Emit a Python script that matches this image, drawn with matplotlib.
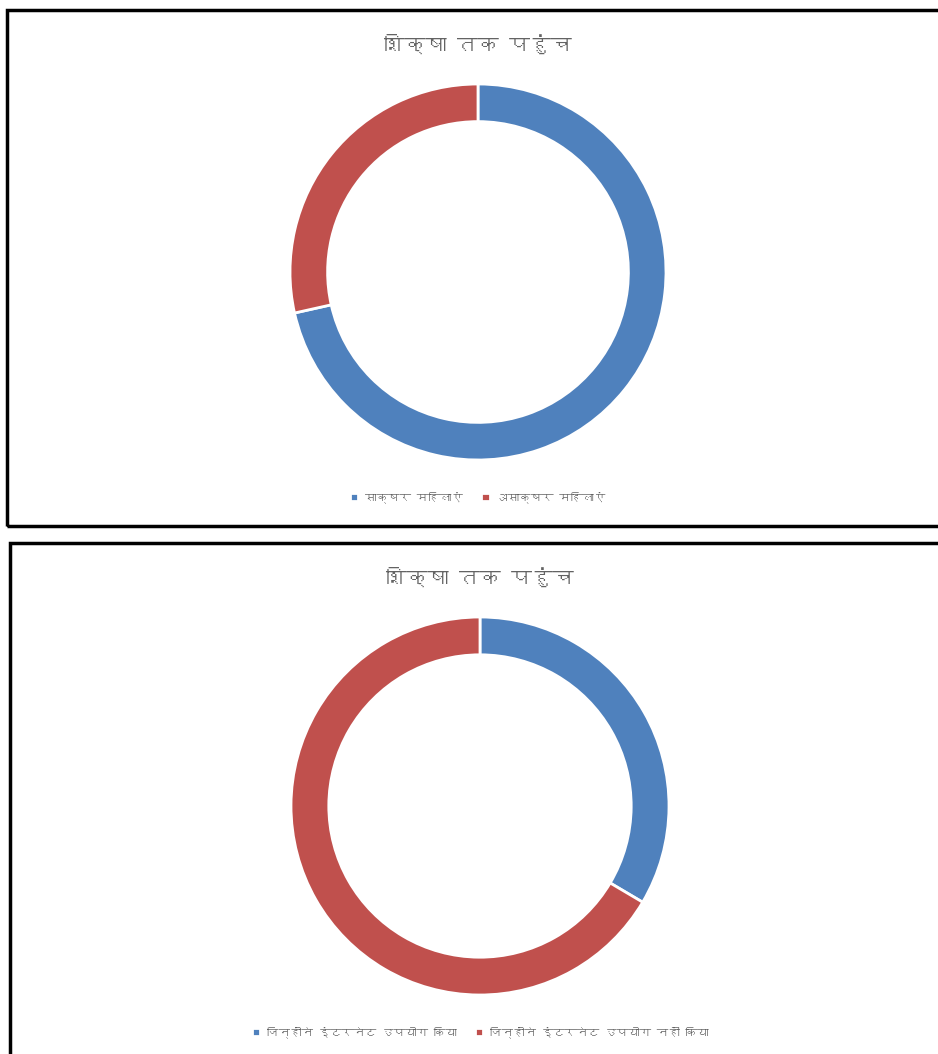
import matplotlib
matplotlib.use('Agg')
import matplotlib.pyplot as plt
from matplotlib import font_manager as fm
from matplotlib.ft2font import FT2Font
from matplotlib.patches import Rectangle

# chart data
title_text = 'शिक्षा तक पहुंच'
literacy_labels = ['साक्षर महिलाएं', 'असाक्षर महिलाएं']
literacy_values = [71.5, 28.5]
internet_labels = ['जिन्होंने इंटरनेट उपयोग किया', 'जिन्होंने इंटरनेट उपयोग नहीं किया']
internet_values = [33.5, 66.5]

colors = ['#4F81BD', '#C0504D']
W, H = 938, 1054


def find_devanagari_font():
    # look for any installed font that has Devanagari glyphs
    for f in fm.fontManager.ttflist:
        try:
            cmap = FT2Font(f.fname).get_charmap()
        except Exception:
            continue
        if 0x0915 in cmap and 0x093F in cmap:
            return f.name
    return None


deva = find_devanagari_font()
families = ([deva] if deva else []) + ['DejaVu Sans']
plt.rcParams['font.family'] = families


def px_axes(fig, x0, y0, x1, y1):
    # pixel box (from top-left) -> figure axes
    return fig.add_axes([x0 / W, 1 - y1 / H, (x1 - x0) / W, (y1 - y0) / H])


def draw_panel(fig, box, center, radius, values, labels, title_y, legend_y):
    bx0, by0, bx1, by1 = box
    fig.patches.append(Rectangle((bx0 / W, 1 - by1 / H), (bx1 - bx0) / W, (by1 - by0) / H,
                                 transform=fig.transFigure, fill=False,
                                 edgecolor='black', linewidth=2.5))
    cx, cy = center
    ax = px_axes(fig, cx - radius, cy - radius, cx + radius, cy + radius)
    wedges, _ = ax.pie(values, colors=colors, startangle=90, counterclock=False,
                       radius=1, wedgeprops=dict(width=0.2, edgecolor='white', linewidth=2))
    ax.set_xlim(-1, 1)
    ax.set_ylim(-1, 1)
    ax.set_aspect('equal')
    ax.axis('off')

    fig.text(cx / W, 1 - title_y / H, title_text, ha='center', va='center',
             fontsize=15, color='#636363')
    fig.legend(wedges, labels, loc='center', bbox_to_anchor=(cx / W, 1 - legend_y / H),
               ncol=2, frameon=False, fontsize=8.3, handlelength=0.7, handleheight=0.7,
               handletextpad=0.6, columnspacing=1.6, labelcolor='#636363')
    return ax


fig = plt.figure(figsize=(W / 100, H / 100), dpi=100)

draw_panel(fig, (7, 10, 945, 526), (478, 272), 188, literacy_values, literacy_labels, 45, 497)
draw_panel(fig, (10, 543, 945, 1070), (480, 806), 189, internet_values, internet_labels, 578, 1032)

fig.savefig('out.png', dpi=100)
